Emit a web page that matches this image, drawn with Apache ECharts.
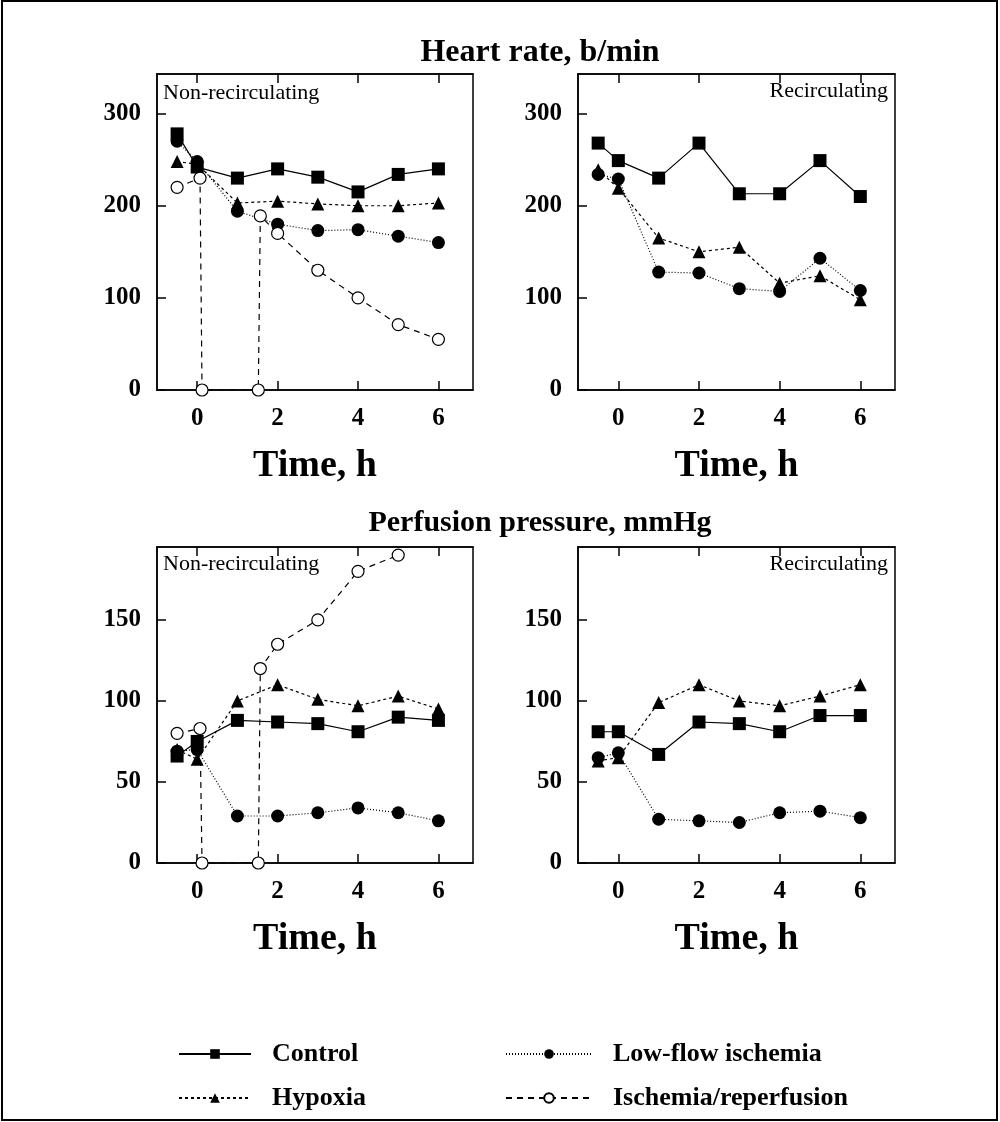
<!DOCTYPE html>
<html>
<head>
<meta charset="utf-8">
<script src="https://cdn.jsdelivr.net/npm/echarts@6/dist/echarts.min.js"></script>
<style>
  html, body { margin: 0; padding: 0; background: #fff; }
  #main { width: 1000px; height: 1122px; }
</style>
</head>
<body>
<div id="main"></div>
<script>
// time points (h)
var times = [-0.5, 0, 1, 2, 3, 4, 5, 6];
var xTickValues = [0, 2, 4, 6];

// heart rate, non-recirculating
var hrNonControl = [278, 242, 230, 240, 231, 215, 234, 240];
var hrNonHypoxia = [248, 245, 203, 205, 202, 200, 200, 203];
var hrNonLowFlow = [270, 248, 194, 180, 173, 174, 167, 160];
var hrNonIscTimes = [-0.5, 0.07, 0.12, 1.52, 1.57, 2, 3, 4, 5, 6];
var hrNonIschemia = [220, 230, 0, 0, 189, 170, 130, 100, 71, 55];

// heart rate, recirculating
var hrRecControl = [268, 249, 230, 268, 213, 213, 249, 210];
var hrRecHypoxia = [239, 219, 165, 150, 155, 116, 124, 98];
var hrRecLowFlow = [234, 229, 128, 127, 110, 107, 143, 108];

// perfusion pressure, non-recirculating
var ppNonControl = [66, 75, 88, 87, 86, 81, 90, 88];
var ppNonHypoxia = [70, 64, 100, 110, 101, 97, 103, 95];
var ppNonLowFlow = [69, 70, 29, 29, 31, 34, 31, 26];
var ppNonIscTimes = [-0.5, 0.07, 0.12, 1.52, 1.57, 2, 3, 4, 5];
var ppNonIschemia = [80, 83, 0, 0, 120, 135, 150, 180, 190];

// perfusion pressure, recirculating
var ppRecControl = [81, 81, 67, 87, 86, 81, 91, 91];
var ppRecHypoxia = [63, 65, 99, 110, 100, 97, 103, 110];
var ppRecLowFlow = [65, 68, 27, 26, 25, 31, 32, 28];

var hrTicks = [0, 100, 200, 300];
var ppTicks = [0, 50, 100, 150];

var serif = '"Liberation Serif", "DejaVu Serif", serif';

function zip(xs, ys) {
	var out = [];
	for (var i = 0; i < xs.length; i++) {
		out.push([xs[i], ys[i]]);
	}
	return out;
}

// one style per group
var styles = {
	'Control': {
		symbol: 'rect', symbolSize: 13,
		itemStyle: {color: '#000'},
		lineStyle: {color: '#000', width: 1.2, type: 'solid'}
	},
	'Hypoxia': {
		symbol: 'triangle', symbolSize: 13,
		itemStyle: {color: '#000'},
		lineStyle: {color: '#000', width: 1.2, type: [3, 3]}
	},
	'Low-flow ischemia': {
		symbol: 'circle', symbolSize: 13,
		itemStyle: {color: '#000'},
		lineStyle: {color: '#000', width: 1.2, type: [1, 2]}
	},
	'Ischemia/reperfusion': {
		symbol: 'circle', symbolSize: 12,
		itemStyle: {color: '#fff', borderColor: '#000', borderWidth: 1.2},
		lineStyle: {color: '#000', width: 1.2, type: [6, 5]}
	}
};

function makeSeries(name, idx, data) {
	var st = styles[name];
	return {
		name: name,
		type: 'line',
		xAxisIndex: idx * 2,
		yAxisIndex: idx,
		data: data,
		symbol: st.symbol,
		symbolSize: st.symbolSize,
		showAllSymbol: true,
		itemStyle: st.itemStyle,
		lineStyle: st.lineStyle,
		animation: false,
		z: 3
	};
}

var gridPos = [
	{left: 157, top: 74, width: 316, height: 316},
	{left: 578, top: 74, width: 317, height: 316},
	{left: 157, top: 547, width: 316, height: 316},
	{left: 578, top: 547, width: 317, height: 316}
];

var grids = [];
var xAxes = [];
var yAxes = [];
for (var g = 0; g < 4; g++) {
	grids.push({
		left: gridPos[g].left, top: gridPos[g].top,
		width: gridPos[g].width, height: gridPos[g].height,
		show: true, borderColor: '#000', borderWidth: 1.5,
		backgroundColor: 'transparent'
	});
	// bottom x axis
	xAxes.push({
		type: 'value', gridIndex: g, min: -1, max: 6.86,
		position: 'bottom',
		name: 'Time, h', nameLocation: 'middle', nameGap: 57,
		nameTextStyle: {fontFamily: serif, fontWeight: 'bold', fontSize: 38, color: '#000'},
		axisLine: {show: true, onZero: false, lineStyle: {color: '#000', width: 1.5}},
		axisTick: {show: true, inside: true, length: 9, customValues: xTickValues, lineStyle: {color: '#000', width: 1.5}},
		axisLabel: {show: true, customValues: xTickValues, margin: 16, fontFamily: serif, fontWeight: 'bold', fontSize: 25, color: '#000'},
		splitLine: {show: false}
	});
	// top x axis, ticks only
	xAxes.push({
		type: 'value', gridIndex: g, min: -1, max: 6.86,
		position: 'top',
		axisLine: {show: true, onZero: false, lineStyle: {color: '#000', width: 1.5}},
		axisTick: {show: true, inside: true, length: 9, customValues: xTickValues, lineStyle: {color: '#000', width: 1.5}},
		axisLabel: {show: false},
		splitLine: {show: false}
	});
	var isHr = g < 2;
	yAxes.push({
		type: 'value', gridIndex: g, min: 0, max: isHr ? 343 : 195,
		position: 'left',
		axisLine: {show: true, onZero: false, lineStyle: {color: '#000', width: 1.5}},
		axisTick: {show: true, inside: true, length: 9, customValues: isHr ? hrTicks : ppTicks, lineStyle: {color: '#000', width: 1.5}},
		axisLabel: {show: true, customValues: isHr ? hrTicks : ppTicks, margin: 16, fontFamily: serif, fontWeight: 'bold', fontSize: 25, color: '#000'},
		splitLine: {show: false}
	});
}

var series = [
	makeSeries('Control', 0, zip(times, hrNonControl)),
	makeSeries('Hypoxia', 0, zip(times, hrNonHypoxia)),
	makeSeries('Low-flow ischemia', 0, zip(times, hrNonLowFlow)),
	makeSeries('Ischemia/reperfusion', 0, zip(hrNonIscTimes, hrNonIschemia)),

	makeSeries('Control', 1, zip(times, hrRecControl)),
	makeSeries('Hypoxia', 1, zip(times, hrRecHypoxia)),
	makeSeries('Low-flow ischemia', 1, zip(times, hrRecLowFlow)),

	makeSeries('Control', 2, zip(times, ppNonControl)),
	makeSeries('Hypoxia', 2, zip(times, ppNonHypoxia)),
	makeSeries('Low-flow ischemia', 2, zip(times, ppNonLowFlow)),
	makeSeries('Ischemia/reperfusion', 2, zip(ppNonIscTimes, ppNonIschemia)),

	makeSeries('Control', 3, zip(times, ppRecControl)),
	makeSeries('Hypoxia', 3, zip(times, ppRecHypoxia)),
	makeSeries('Low-flow ischemia', 3, zip(times, ppRecLowFlow))
];

var legendText = {fontFamily: serif, fontWeight: 'bold', fontSize: 26, color: '#000', padding: [0, 0, 0, 16]};

var chart = echarts.init(document.getElementById('main'), null, {renderer: 'canvas'});
chart.setOption({
	backgroundColor: '#fff',
	animation: false,
	title: [
		{text: 'Heart rate, b/min', left: 535, top: 32, textAlign: 'center',
			textStyle: {fontFamily: serif, fontWeight: 'bold', fontSize: 32, color: '#000'}},
		{text: 'Perfusion pressure, mmHg', left: 535, top: 503, textAlign: 'center',
			textStyle: {fontFamily: serif, fontWeight: 'bold', fontSize: 30, color: '#000'}}
	],
	grid: grids,
	xAxis: xAxes,
	yAxis: yAxes,
	legend: [
		{
			data: ['Control', 'Hypoxia'],
			orient: 'vertical', left: 173, top: 1036, itemGap: 18,
			itemWidth: 72, itemHeight: 12,
			textStyle: legendText
		},
		{
			data: ['Low-flow ischemia', 'Ischemia/reperfusion'],
			orient: 'vertical', left: 500, top: 1036, itemGap: 18,
			itemWidth: 86, itemHeight: 12,
			textStyle: legendText
		}
	],
	graphic: [
		{type: 'rect', shape: {x: 2, y: 1, width: 995, height: 1119},
			style: {fill: 'none', stroke: '#000', lineWidth: 2}, silent: true},
		{type: 'text', left: 163, top: 82,
			style: {text: 'Non-recirculating', font: '22px ' + serif, fill: '#000'}},
		{type: 'text', right: 112, top: 80,
			style: {text: 'Recirculating', font: '22px ' + serif, fill: '#000'}},
		{type: 'text', left: 163, top: 553,
			style: {text: 'Non-recirculating', font: '22px ' + serif, fill: '#000'}},
		{type: 'text', right: 112, top: 553,
			style: {text: 'Recirculating', font: '22px ' + serif, fill: '#000'}}
	],
	series: series
});
</script>
</body>
</html>
